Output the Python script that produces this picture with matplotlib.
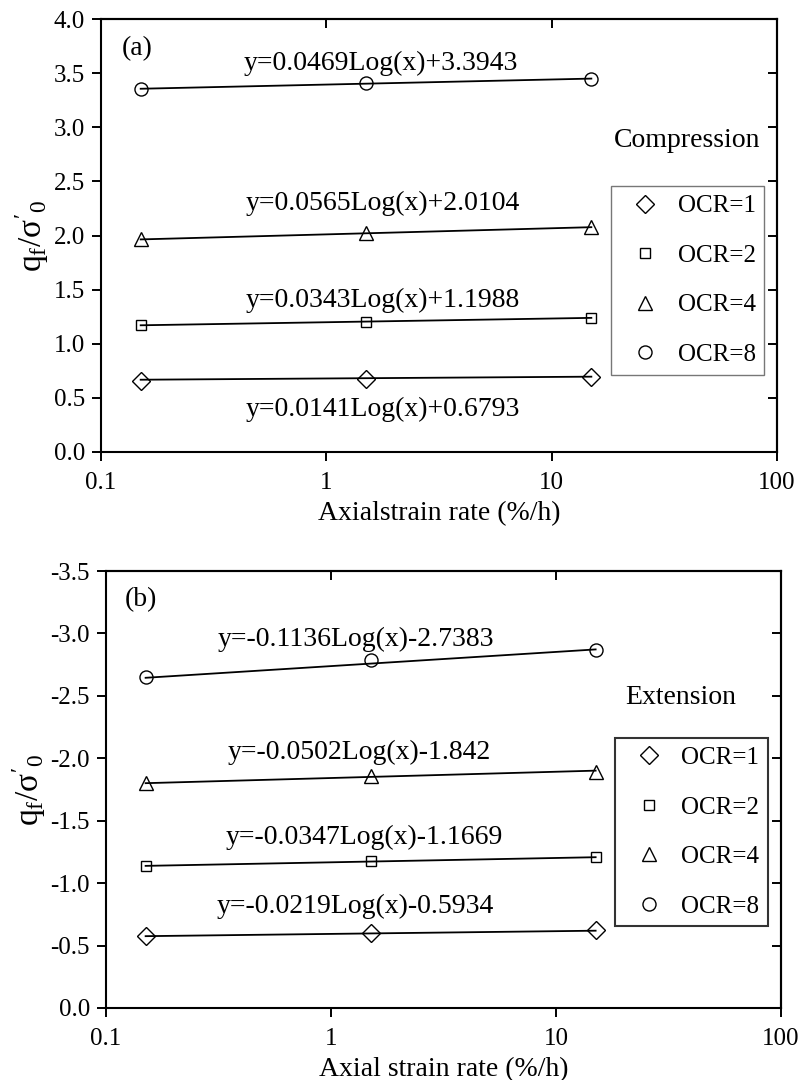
import numpy as np
import matplotlib
matplotlib.use("Agg")
import matplotlib.pyplot as plt
from matplotlib.ticker import NullLocator, FixedLocator, FixedFormatter

plt.rcParams['font.family'] = ['Liberation Serif', 'DejaVu Serif']
plt.rcParams['mathtext.fontset'] = 'custom'
plt.rcParams['mathtext.rm'] = 'Liberation Serif'
plt.rcParams['mathtext.it'] = 'Liberation Serif:italic'
plt.rcParams['mathtext.sf'] = 'Liberation Serif'
plt.rcParams['axes.unicode_minus'] = False

# ---------------- data ----------------
strain_rate = [0.15, 1.5, 15]
ocr_labels = ['OCR=1', 'OCR=2', 'OCR=4', 'OCR=8']

comp_ocr1 = [0.660, 0.675, 0.690]
comp_ocr2 = [1.170, 1.200, 1.240]
comp_ocr4 = [1.965, 2.025, 2.080]
comp_ocr8 = [3.355, 3.405, 3.445]
comp_slope = [0.0141, 0.0343, 0.0565, 0.0469]
comp_intercept = [0.6793, 1.1988, 2.0104, 3.3943]
comp_eq = ['y=0.0141Log(x)+0.6793', 'y=0.0343Log(x)+1.1988',
           'y=0.0565Log(x)+2.0104', 'y=0.0469Log(x)+3.3943']

ext_ocr1 = [-0.577, -0.598, -0.622]
ext_ocr2 = [-1.138, -1.175, -1.210]
ext_ocr4 = [-1.805, -1.860, -1.890]
ext_ocr8 = [-2.650, -2.785, -2.870]
ext_slope = [-0.0219, -0.0347, -0.0502, -0.1136]
ext_intercept = [-0.5934, -1.1669, -1.842, -2.7383]
ext_eq = ['y=-0.0219Log(x)-0.5934', 'y=-0.0347Log(x)-1.1669',
          'y=-0.0502Log(x)-1.842', 'y=-0.1136Log(x)-2.7383']

x_ticks = [0.1, 1, 10, 100]
x_tick_labels = ['0.1', '1', '10', '100']
comp_yticks = [0.0, 0.5, 1.0, 1.5, 2.0, 2.5, 3.0, 3.5, 4.0]
ext_yticks = [0.0, -0.5, -1.0, -1.5, -2.0, -2.5, -3.0, -3.5]

# ---------------- style ----------------
markers = ['D', 's', '^', 'o']
msizes = [8.8, 7.2, 10.0, 9.4]
comp_eq_pos = [(1.78, 0.39), (1.78, 1.40), (1.78, 2.30), (1.75, 3.59)]
ext_eq_pos = [(1.28, -0.81), (1.41, -1.37), (1.33, -2.05), (1.29, -2.95)]

FS_TICK = 18
FS_TEXT = 20
FS_LEG = 18
FS_YLAB = 24
LW_SPINE = 1.5

fig = plt.figure(figsize=(8.03, 10.8), dpi=100)
ax1 = fig.add_axes([101 / 803, 1 - 452 / 1080, 676 / 803, 433 / 1080])
ax2 = fig.add_axes([106 / 803, 1 - 1008 / 1080, 675 / 803, 437 / 1080])


def draw_panel(ax, series, slopes, intercepts, eqs, eq_pos, ylim, yticks,
               xlabel, tag, tag_pos, mode_text, mode_pos, leg_anchor, leg_frame):
    xs = np.array(strain_rate)
    handles = []
    for i, ys in enumerate(series):
        fit = slopes[i] * np.log10(xs) + intercepts[i]
        ax.plot(xs, fit, color='black', lw=1.3, zorder=2)
        h, = ax.plot(xs, ys, linestyle='none', marker=markers[i], ms=msizes[i],
                     mfc='none', mec='black', mew=1.0, label=ocr_labels[i], zorder=3)
        handles.append(h)
        ax.text(eq_pos[i][0], eq_pos[i][1], eqs[i], fontsize=FS_TEXT,
                ha='center', va='center')
    ax.set_xscale('log')
    ax.set_xlim(0.1, 100)
    ax.set_ylim(*ylim)
    ax.xaxis.set_major_locator(FixedLocator(x_ticks))
    ax.xaxis.set_major_formatter(FixedFormatter(x_tick_labels))
    ax.xaxis.set_minor_locator(NullLocator())
    ax.set_yticks(yticks)
    ax.set_yticklabels(['%.1f' % v for v in yticks])
    ax.tick_params(axis='both', which='major', direction='out', length=6.5,
                   width=1.4, labelsize=FS_TICK, pad=5)
    ax.tick_params(axis='x', pad=8)
    for sp in ax.spines.values():
        sp.set_linewidth(LW_SPINE)
    # inward ticks on top and right
    sx = ax.secondary_xaxis('top')
    sx.xaxis.set_major_locator(FixedLocator(x_ticks))
    sx.xaxis.set_minor_locator(NullLocator())
    sx.tick_params(direction='in', length=6.5, width=1.4, labeltop=False)
    sx.spines['top'].set_linewidth(LW_SPINE)
    sy = ax.secondary_yaxis('right')
    sy.set_yticks(yticks)
    sy.yaxis.set_minor_locator(NullLocator())
    sy.tick_params(direction='in', length=6.5, width=1.4, labelright=False)
    sy.spines['right'].set_linewidth(LW_SPINE)

    ax.set_xlabel(xlabel, fontsize=FS_TEXT, labelpad=5)
    ax.set_ylabel(r"$\mathregular{q_f/σ'_0}$", fontsize=FS_YLAB, labelpad=2)
    ax.text(tag_pos[0], tag_pos[1], tag, fontsize=FS_TEXT, ha='left', va='center')
    ax.text(mode_pos[0], mode_pos[1], mode_text, fontsize=FS_TEXT,
            ha='center', va='center')
    leg = ax.legend(handles=handles, loc='upper left', bbox_to_anchor=leg_anchor,
                    fontsize=FS_LEG, frameon=True, fancybox=False,
                    handlelength=2.0, handletextpad=0.3, borderpad=0.35,
                    labelspacing=1.08, borderaxespad=0.0)
    leg.get_frame().set_edgecolor(leg_frame[0])
    leg.get_frame().set_linewidth(leg_frame[1])


draw_panel(ax1, [comp_ocr1, comp_ocr2, comp_ocr4, comp_ocr8], comp_slope,
           comp_intercept, comp_eq, comp_eq_pos, (0.0, 4.0), comp_yticks,
           'Axialstrain rate (%/h)', '(a)', (0.124, 3.73),
           'Compression', (40.0, 2.88), (0.755, 0.614), ('#555555', 1.0))
draw_panel(ax2, [ext_ocr1, ext_ocr2, ext_ocr4, ext_ocr8], ext_slope,
           ext_intercept, ext_eq, ext_eq_pos, (0.0, -3.5), ext_yticks,
           'Axial strain rate (%/h)', '(b)', (0.121, -3.27),
           'Extension', (36.0, -2.49), (0.754, 0.618), ('black', 1.5))

fig.savefig('out.png', dpi=100)
